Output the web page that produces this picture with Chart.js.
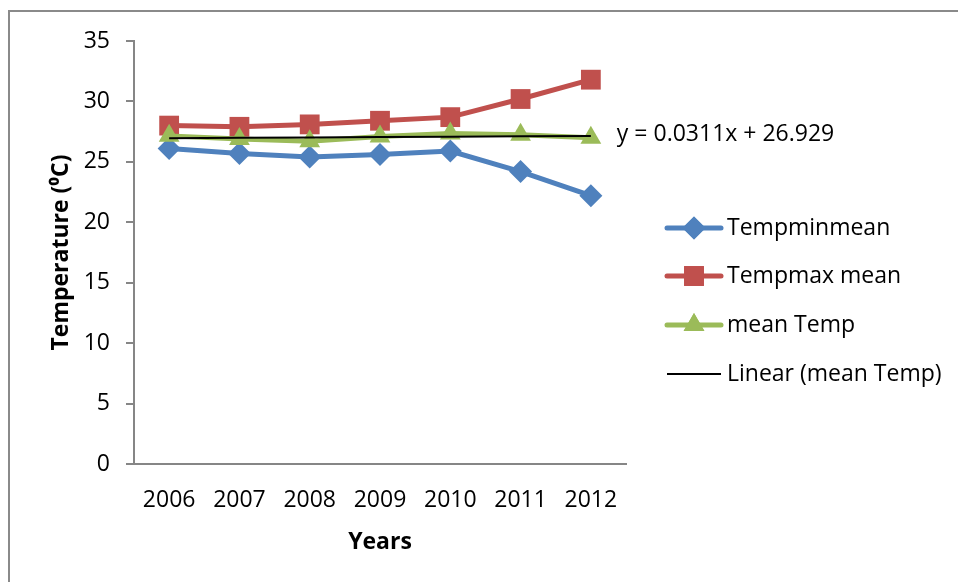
<!DOCTYPE html>
<html>
<head>
<meta charset="utf-8">
<script src="https://cdn.jsdelivr.net/npm/chart.js@4.4.1/dist/chart.umd.min.js"></script>
<style>
  html, body { margin: 0; padding: 0; background: #ffffff; }
  #wrap { position: relative; width: 958px; height: 582px; }
</style>
</head>
<body>
<div id="wrap"><canvas id="chart" width="958" height="582"></canvas></div>
<script>
// Annual temperature summary, 2006-2012
const years = ['2006', '2007', '2008', '2009', '2010', '2011', '2012'];
const tempMinMean = [26.1, 25.7, 25.4, 25.6, 25.9, 24.2, 22.2];
const tempMaxMean = [28.0, 27.9, 28.1, 28.4, 28.7, 30.2, 31.8];
const meanTemp = [27.15, 26.9, 26.7, 27.1, 27.35, 27.25, 27.0];

// Linear trend of mean Temp as given by its equation (x = 1 for the first year)
const trendSlope = 0.0311;
const trendIntercept = 26.929;
const trendLabel = 'y = 0.0311x + 26.929';
const trendValues = years.map((_, i) => trendSlope * (i + 1) + trendIntercept);

const FONT = '"Open Sans", "Noto Sans", sans-serif';
const BLUE = '#4F81BD', RED = '#C0504D', GREEN = '#9BBB59', AXIS = '#868686';

// Outer frame, trend equation and a legend with line + marker swatches
const decorations = {
  id: 'decorations',
  beforeDraw(chart) {
    const ctx = chart.ctx;
    ctx.save();
    ctx.fillStyle = '#ffffff';
    ctx.fillRect(0, 0, chart.width, chart.height);
    ctx.strokeStyle = '#8a8a8a';
    ctx.lineWidth = 2;
    ctx.beginPath();
    ctx.moveTo(9, chart.height);
    ctx.lineTo(9, 11);
    ctx.lineTo(chart.width, 11);
    ctx.stroke();
    ctx.restore();
  },
  afterDraw(chart) {
    const ctx = chart.ctx;
    const ys = chart.scales.y;
    const xs = chart.scales.x;
    ctx.save();
    ctx.font = '23px ' + FONT;
    ctx.fillStyle = '#000000';
    ctx.textAlign = 'left';
    ctx.textBaseline = 'middle';
    const lastX = xs.getPixelForValue(years.length - 1);
    ctx.fillText(trendLabel, lastX + 26, ys.getPixelForValue(trendValues[trendValues.length - 1]) - 1);

    const order = [3, 2, 1, 0];
    const rowY = [228, 276, 325, 374];
    const x0 = 667, x1 = 721;
    order.forEach((di, r) => {
      const ds = chart.data.datasets[di];
      const y = rowY[r];
      ctx.strokeStyle = ds.borderColor;
      ctx.lineWidth = ds.pointRadius ? 5 : 2;
      ctx.lineCap = ds.pointRadius ? 'round' : 'butt';
      ctx.beginPath();
      ctx.moveTo(x0, y);
      ctx.lineTo(x1, y);
      ctx.stroke();
      if (ds.pointRadius) {
        ctx.fillStyle = ds.pointBackgroundColor;
        Chart.helpers.drawPoint(ctx, {
          pointStyle: ds.pointStyle,
          radius: ds.pointRadius,
          borderWidth: 0,
          rotation: 0
        }, (x0 + x1) / 2, y);
        ctx.fill();
      }
      ctx.fillStyle = '#000000';
      ctx.fillText(ds.label, x1 + 6, y);
    });
    ctx.restore();
  }
};

new Chart(document.getElementById('chart'), {
  type: 'line',
  data: {
    labels: years,
    datasets: [
      {
        label: 'Linear (mean Temp)',
        data: trendValues,
        borderColor: '#000000',
        borderWidth: 2,
        pointRadius: 0,
        order: 0
      },
      {
        label: 'mean Temp',
        data: meanTemp,
        borderColor: GREEN,
        backgroundColor: GREEN,
        borderWidth: 5,
        pointStyle: 'triangle',
        pointRadius: 12,
        pointBackgroundColor: GREEN,
        pointBorderWidth: 0,
        order: 1
      },
      {
        label: 'Tempmax mean',
        data: tempMaxMean,
        borderColor: RED,
        backgroundColor: RED,
        borderWidth: 5,
        pointStyle: 'rect',
        pointRadius: 14,
        pointBackgroundColor: RED,
        pointBorderWidth: 0,
        order: 2
      },
      {
        label: 'Tempminmean',
        data: tempMinMean,
        borderColor: BLUE,
        backgroundColor: BLUE,
        borderWidth: 5,
        pointStyle: 'rectRot',
        pointRadius: 11.5,
        pointBackgroundColor: BLUE,
        pointBorderWidth: 0,
        order: 3
      }
    ]
  },
  options: {
    responsive: false,
    animation: false,
    events: [],
    layout: { padding: { left: 0, top: 41, right: 332, bottom: 0 } },
    plugins: {
      legend: { display: false },
      tooltip: { enabled: false }
    },
    scales: {
      x: {
        type: 'category',
        offset: true,
        grid: { display: false, drawTicks: false },
        border: { display: true, color: AXIS, width: 2 },
        ticks: { color: '#000000', font: { family: FONT, size: 23 }, padding: 23, maxRotation: 0 },
        title: {
          display: true,
          text: 'Years',
          color: '#000000',
          font: { family: FONT, size: 23, weight: 'bold' },
          padding: { top: 0, bottom: 26 }
        },
        afterFit(scale) { scale.height = 118; }
      },
      y: {
        min: 0,
        max: 35,
        ticks: { stepSize: 5, color: '#000000', font: { family: FONT, size: 23 }, padding: 16 },
        grid: { drawOnChartArea: false, drawTicks: true, tickLength: 8, color: AXIS, lineWidth: 2 },
        border: { display: true, color: AXIS, width: 2 },
        title: {
          display: true,
          text: 'Temperature (\u2070C)',
          color: '#000000',
          font: { family: FONT, size: 23, weight: 'bold' },
          padding: { top: 48, bottom: 0 }
        },
        afterFit(scale) { scale.width = 134; }
      }
    }
  },
  plugins: [decorations]
});
</script>
</body>
</html>
